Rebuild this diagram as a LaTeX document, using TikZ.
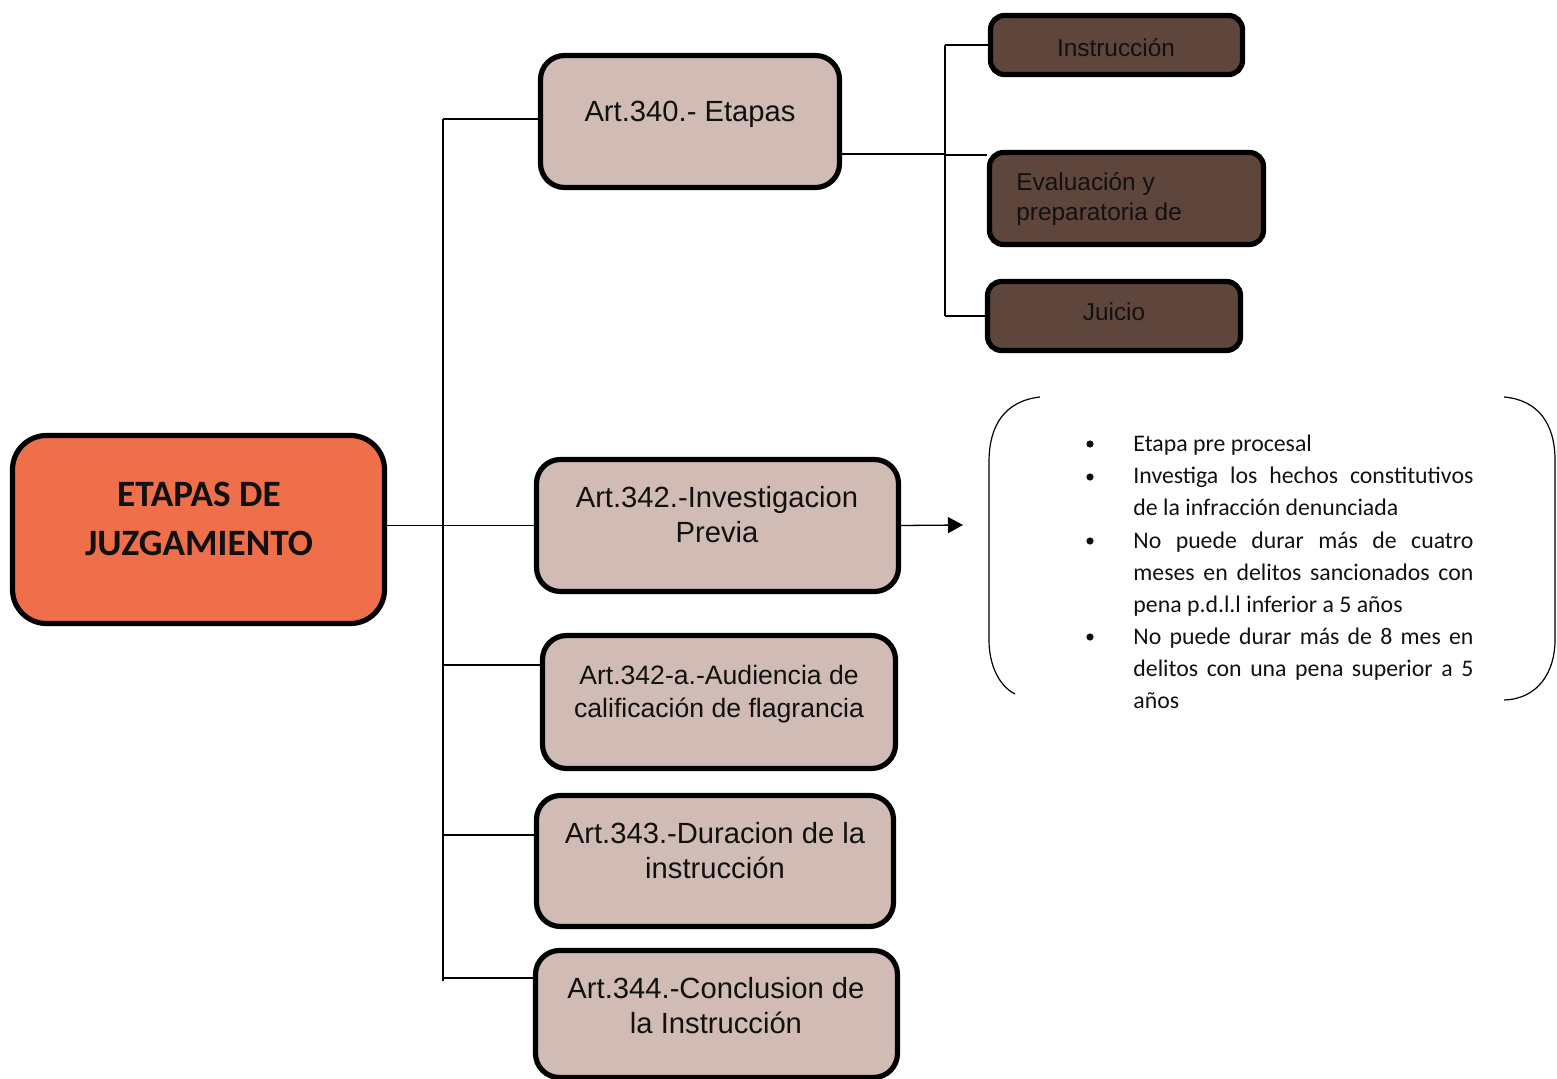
\documentclass[tikz,border=0pt]{standalone}
\usepackage{fontspec}
\setmainfont{Liberation Sans}
\newfontfamily\calibri{Carlito}
\usetikzlibrary{arrows.meta}
\definecolor{orangebox}{HTML}{EF6F4B}
\definecolor{pinkbox}{HTML}{D0BCB4}
\definecolor{brownbox}{HTML}{5E463C}
\definecolor{ink}{HTML}{111111}
\begin{document}
\begin{tikzpicture}[x=0.5pt,y=-0.5pt,
  mainbox/.style={draw=black, line width=2.6pt, fill=orangebox, rounded corners=17pt, inner sep=0pt},
  artbox/.style={draw=black, line width=2.6pt, fill=pinkbox, rounded corners=12pt, inner sep=0pt},
  brbox/.style={draw=black, line width=2.6pt, fill=brownbox, rounded corners=7pt, inner sep=0pt},
  maintext/.style={font=\calibri\bfseries\fontsize{18.6pt}{24.5pt}\selectfont, align=center, text=ink, inner sep=0pt},
  arttext/.style={font=\fontsize{14.6pt}{17.5pt}\selectfont, align=center, text=ink, inner sep=0pt},
  brtext/.style={font=\fontsize{12.2pt}{15pt}\selectfont, text=ink, inner sep=0pt},
  bultext/.style={font=\calibri\fontsize{11.9pt}{16pt}\selectfont, text=ink, inner sep=0pt, anchor=base west},
  thick line/.style={draw=black, line width=1pt},
  thin line/.style={draw=black, line width=0.65pt},
  bracket/.style={draw=black, line width=0.6pt}
]
\useasboundingbox (0,0) rectangle (1557,1079);
\clip (0,0) rectangle (1557,1079);

% ---------- boxes ----------
\node[mainbox, minimum width=186pt, minimum height=94pt] (main) at (198.5,529.5) {};
\node[maintext] (maint) at (199,519) {ETAPAS DE\\JUZGAMIENTO};

\node[artbox, minimum width=149.5pt, minimum height=66pt] (a340) at (690,121.5) {};
\node[arttext] (a340t) at (690,114) {Art.340.- Etapas};

\node[artbox, minimum width=181pt, minimum height=66pt] (a342) at (717.5,525.5) {};
\node[arttext] (a342t) at (717,514.5) {Art.342.-Investigacion\\Previa};

\node[artbox, minimum width=176.5pt, minimum height=66.5pt] (a342a) at (719,702) {};
\node[arttext, font=\fontsize{13.3pt}{16.5pt}\selectfont] (a342at) at (719,694.5) {Art.342-a.-Audiencia de\\calificación de flagrancia};

\node[artbox, minimum width=178.5pt, minimum height=65.5pt] (a343) at (715,861) {};
\node[arttext] (a343t) at (715,851) {Art.343.-Duracion de la\\instrucción};

\node[artbox, minimum width=181pt, minimum height=63.5pt] (a344) at (716.5,1014) {};
\node[arttext] (a344t) at (716,1005.5) {Art.344.-Conclusion de\\la Instrucción};

\node[brbox, minimum width=126pt, minimum height=29.5pt] (instr) at (1116.5,45) {};
\node[brtext] (instrt) at (1116,48) {Instrucción};

\node[brbox, minimum width=137pt, minimum height=46pt] (eval) at (1126.5,198.5) {};
\node[brtext, align=left, anchor=west] (evalt) at (1016,199) {Evaluación y\\preparatoria de};

\node[brbox, minimum width=126.5pt, minimum height=34.5pt] (juicio) at (1114,316) {};
\node[brtext] (juiciot) at (1114,312) {Juicio};

% ---------- main trunk ----------
\coordinate (j340) at (443,119);
\coordinate (j342a) at (443,665);
\coordinate (j343) at (443,835);
\coordinate (j344) at (443,978);
\coordinate (tbot) at (443,981);
\draw[thick line] (j340) -- (tbot);
\draw[thick line] (j340) -- (j340 -| a340.west);
\draw[thin line] (main.east |- a342.west) -- (a342.west);
\draw[thin line] (j342a) -- (j342a -| a342a.west);
\draw[thin line] (j343) -- (j343 -| a343.west);
\draw[thin line] (j344) -- (j344 -| a344.west);

% ---------- sub trunk ----------
\coordinate (s340) at (945,154);
\coordinate (sinstr) at (945,45);
\coordinate (seval) at (945,155);
\coordinate (sjui) at (945,316);
\draw[thick line] (s340 -| a340.east) -- (s340);
\draw[thick line] (sinstr) -- (sjui);
\draw[thick line] (sinstr) -- (instr.west);
\draw[thick line] (seval) -- (seval -| eval.west);
\draw[thick line] (sjui) -- (juicio.west);

% ---------- arrow ----------
\coordinate (arrowend) at (963,525);
\draw[thin line, -{Triangle[length=7.5pt,width=8pt]}] (a342.east) -- (arrowend);

% ---------- bracket ----------
\draw[bracket] (1040,397) .. controls (1005,401) and (989,425) .. (989,462)
  -- (989,640) .. controls (989,665) and (999,686) .. (1015,694);
\draw[bracket] (1504,397) .. controls (1539,400) and (1555,425) .. (1555,460)
  -- (1555,640) .. controls (1555,672) and (1538,699) .. (1504,700);

% ---------- bullet text ----------
\foreach \y in {444,477,541,637}
  \fill[ink] (1090,\y) circle (3.6);
\node[bultext] (l1) at (1133,452) {Etapa pre procesal};
\node[bultext] (l2) at (1133,484) {\makebox[170pt][s]{Investiga los hechos constitutivos}};
\node[bultext] (l3) at (1133,516) {de la infracción denunciada};
\node[bultext] (l4) at (1133,548) {\makebox[170pt][s]{No puede durar más de cuatro}};
\node[bultext] (l5) at (1133,580) {\makebox[170pt][s]{meses en delitos sancionados con}};
\node[bultext] (l6) at (1133,612) {pena p.d.l.l inferior a 5 años};
\node[bultext] (l7) at (1133,644) {\makebox[170pt][s]{No puede durar más de 8 mes en}};
\node[bultext] (l8) at (1133,676) {\makebox[170pt][s]{delitos con una pena superior a 5}};
\node[bultext] (l9) at (1133,708) {años};
\end{tikzpicture}
\end{document}
